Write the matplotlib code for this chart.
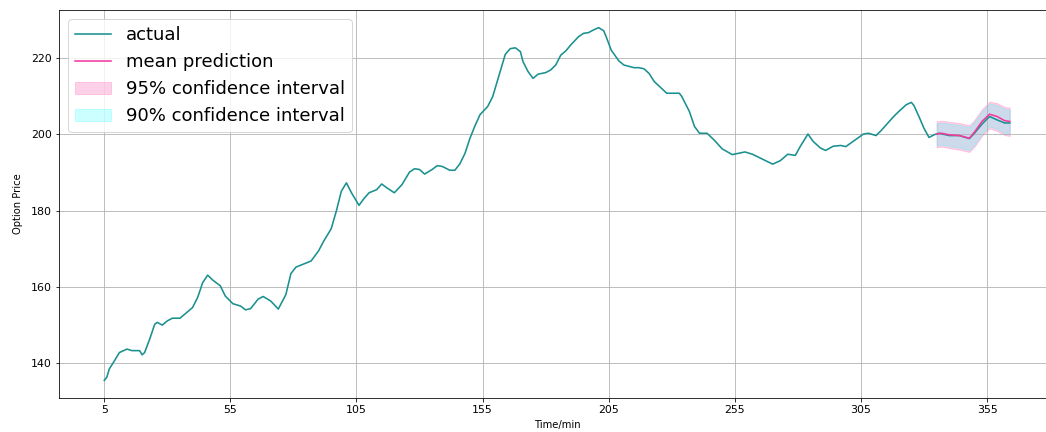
import matplotlib
matplotlib.use('Agg')
import matplotlib.pyplot as plt

# actual option price
t_actual = [5, 6, 7, 9, 11, 12, 14, 16, 19, 20, 21, 23, 25, 26, 28, 30, 32, 35, 37, 40,
            42, 44, 46, 48, 51, 53, 56, 59, 61, 63, 66, 68, 71, 74, 77, 79, 81, 84, 87, 90,
            92, 95, 97, 99, 101, 103, 106, 108, 110, 113, 115, 117, 120, 123, 126, 128, 130, 132, 135, 137,
            139, 142, 144, 146, 148, 150, 152, 154, 157, 159, 162, 164, 166, 168, 170, 171, 173, 175, 177, 180,
            182, 184, 186, 188, 190, 193, 195, 197, 199, 201, 203, 204, 206, 209, 211, 215, 217, 219, 221, 223,
            228, 233, 234, 237, 239, 241, 244, 247, 250, 254, 259, 262, 266, 270, 273, 276, 279, 281, 284, 286,
            289, 291, 294, 297, 299, 302, 306, 308, 311, 313, 316, 318, 320, 323, 325, 326, 328, 330, 332, 334,
            336, 340, 344, 348, 350, 353, 356, 359, 362, 364]
actual = [135.5, 136.3, 138.5, 140.6, 142.8, 143.1, 143.7, 143.3, 143.3, 142.2, 142.8, 146.3, 150.2, 150.7, 150.0, 151.1, 151.8, 151.8, 152.9, 154.6,
          157.2, 161.1, 163.1, 161.8, 160.3, 157.6, 155.6, 155.0, 154.0, 154.3, 156.8, 157.5, 156.3, 154.2, 158.0, 163.5, 165.2, 166.0, 166.8, 169.5,
          172.0, 175.3, 179.9, 185.1, 187.3, 184.7, 181.4, 183.2, 184.7, 185.5, 187.0, 186.0, 184.7, 186.8, 190.1, 191.0, 190.8, 189.6, 190.8, 191.8,
          191.6, 190.6, 190.6, 192.3, 195.0, 199.0, 202.3, 205.2, 207.3, 209.9, 216.5, 221.0, 222.5, 222.7, 221.7, 219.1, 216.5, 214.7, 215.8, 216.2,
          216.9, 218.2, 220.8, 221.9, 223.5, 225.6, 226.5, 226.7, 227.4, 228.0, 227.2, 225.6, 222.1, 219.3, 218.2, 217.5, 217.5, 217.2, 216.0, 213.9,
          210.8, 210.8, 209.9, 206.0, 202.1, 200.3, 200.3, 198.4, 196.2, 194.7, 195.4, 194.8, 193.5, 192.2, 193.1, 194.8, 194.5, 196.9, 200.1, 198.2,
          196.4, 195.8, 196.9, 197.1, 196.8, 198.2, 200.1, 200.3, 199.7, 201.0, 203.2, 204.7, 206.0, 207.8, 208.4, 207.6, 204.7, 201.6, 199.2, 199.9,
          200.3, 199.7, 199.7, 198.9, 200.3, 202.7, 204.7, 203.8, 203.0, 203.0]

# prediction window
t_pred = [335, 337, 340, 344, 348, 350, 353, 356, 359, 362, 364]
mean_pred = [200.1, 200.3, 199.9, 199.7, 199.0, 200.6, 203.4, 205.3, 204.7, 203.6, 203.4]
upper95 = [203.4, 203.6, 203.3, 203.0, 202.4, 203.8, 206.6, 208.6, 208.2, 207.2, 207.0]
lower95 = [196.6, 196.8, 196.4, 196.0, 195.4, 196.8, 199.6, 201.6, 200.9, 199.8, 199.6]
upper90 = [202.9, 203.1, 202.8, 202.5, 201.9, 203.3, 206.1, 208.1, 207.7, 206.7, 206.5]
lower90 = [197.1, 197.3, 196.9, 196.5, 195.9, 197.3, 200.1, 202.1, 201.4, 200.3, 200.1]

xticks = [5, 55, 105, 155, 205, 255, 305, 355]

fig = plt.figure(figsize=(1046 / 72, 432 / 72), dpi=72)
ax = fig.add_axes([59 / 1046, 34 / 432, 996 / 1046, 388 / 432])

ax.plot(t_actual, actual, color='#1a9090', linewidth=1.6, label='actual')
ax.plot(t_pred, mean_pred, color='#f53a9e', linewidth=1.6, label='mean prediction')
ax.fill_between(t_pred, lower95, upper95, color='hotpink', alpha=0.3,
                label='95% confidence interval')
ax.fill_between(t_pred, lower90, upper90, color='cyan', alpha=0.2,
                label='90% confidence interval')

ax.set_xticks(xticks)
ax.tick_params(labelsize=11)
ax.set_xlabel('Time/min', labelpad=5)
ax.set_ylabel('Option Price', labelpad=8)
ax.grid(True)
ax.legend(loc='upper left', fontsize=18)

fig.savefig('out.png', dpi=72)
